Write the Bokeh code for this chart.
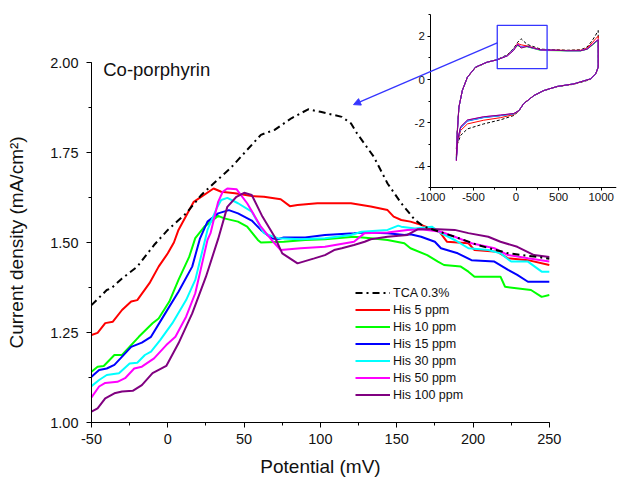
from bokeh.plotting import figure
from bokeh.models import (Range1d, LinearAxis, SingleIntervalTicker, PrintfTickFormatter,
                          Legend, LegendItem, Label, Arrow, NormalHead)
from bokeh.embed import file_html
from bokeh.resources import INLINE

# ---------------- main chart data (potential in mV, current density in mA/cm2) -------------
tca_mv = [-50, -40, -37, -30, -20, -9, 0, 12, 22, 30, 41, 50, 61, 70, 81, 92, 100, 114, 120, 124,
          135, 144, 153, 162, 168, 188, 203, 223, 242, 250]
tca_j = [1.326, 1.368, 1.373, 1.40, 1.433, 1.493, 1.535, 1.581, 1.632, 1.664, 1.706, 1.748, 1.799,
         1.813, 1.845, 1.87, 1.863, 1.849, 1.831, 1.803, 1.738, 1.664, 1.609, 1.5625, 1.544, 1.516,
         1.493, 1.47, 1.46, 1.455]

his5_mv = [-50, -46, -41, -36, -30, -24, -20, -12, -6, 0, 4, 7, 17, 30, 35, 44, 55, 63, 74, 80, 85,
           98, 120, 133, 144, 148, 153, 159, 166, 172, 178, 183, 197, 201, 216, 223, 236, 250]
his5_j = [1.243, 1.249, 1.276, 1.28, 1.3125, 1.336, 1.34, 1.387, 1.433, 1.47, 1.50, 1.535, 1.613,
          1.650, 1.641, 1.637, 1.629, 1.627, 1.620, 1.601, 1.604, 1.609, 1.609, 1.60, 1.59, 1.572,
          1.5625, 1.558, 1.549, 1.539, 1.53, 1.502, 1.498, 1.479, 1.474, 1.456, 1.451, 1.4375]

his10_mv = [-50, -46, -42, -35, -30, -19, -10, -6, 1, 7, 14, 18, 24, 33, 37, 46, 52, 59, 61, 76, 90,
            103, 122, 133, 144, 155, 159, 170, 177, 181, 192, 197, 201, 218, 221, 238, 245, 250]
his10_j = [1.141, 1.155, 1.157, 1.1875, 1.1875, 1.238, 1.2755, 1.289, 1.336, 1.396, 1.46, 1.512,
           1.544, 1.574, 1.567, 1.558, 1.544, 1.507, 1.50, 1.502, 1.507, 1.509, 1.516, 1.512, 1.507,
           1.498, 1.484, 1.465, 1.447, 1.4375, 1.433, 1.419, 1.405, 1.405, 1.377, 1.368, 1.349, 1.354]

his15_mv = [-50, -45, -40, -35, -31, -24, -17, -11, -1, 7, 16, 21, 26, 33, 40, 46, 55, 61, 68, 72,
            76, 90, 103, 122, 129, 144, 155, 159, 166, 175, 179, 190, 199, 214, 223, 229, 236, 250]
his15_j = [1.127, 1.146, 1.15, 1.16, 1.178, 1.21, 1.222, 1.238, 1.308, 1.363, 1.433, 1.51, 1.558,
           1.581, 1.590, 1.581, 1.561, 1.535, 1.512, 1.509, 1.514, 1.514, 1.521, 1.526, 1.528, 1.526,
           1.521, 1.523, 1.516, 1.502, 1.484, 1.47, 1.451, 1.447, 1.424, 1.41, 1.391, 1.391]

his30_mv = [-50, -45, -40, -32, -25, -20, -15, -11, -5, 3, 12, 18, 24, 26, 32, 35, 39, 46, 55, 63,
            72, 87, 103, 120, 127, 144, 151, 153, 162, 173, 179, 188, 197, 210, 218, 225, 236, 245, 250]
his30_j = [1.101, 1.118, 1.132, 1.137, 1.164, 1.166, 1.1875, 1.197, 1.229, 1.276, 1.34, 1.396, 1.50,
           1.535, 1.595, 1.618, 1.624, 1.609, 1.586, 1.526, 1.512, 1.509, 1.512, 1.521, 1.53, 1.535,
           1.547, 1.544, 1.539, 1.544, 1.526, 1.507, 1.484, 1.479, 1.47, 1.447, 1.447, 1.419, 1.419]

his50_mv = [-50, -45, -41, -33, -28, -22, -17, -9, -1, 5, 12, 18, 26, 28, 33, 36, 39, 45, 52, 61,
            68, 74, 87, 103, 122, 129, 144, 157, 166, 179, 188, 199, 214, 223, 236, 250]
his50_j = [1.07, 1.10, 1.11, 1.113, 1.123, 1.15, 1.155, 1.178, 1.215, 1.238, 1.294, 1.359, 1.507,
           1.526, 1.613, 1.641, 1.65, 1.648, 1.609, 1.544, 1.507, 1.479, 1.484, 1.488, 1.502, 1.526,
           1.528, 1.535, 1.537, 1.53, 1.516, 1.498, 1.484, 1.465, 1.456, 1.447]

his100_mv = [-50, -46, -41, -35, -30, -23, -17, -10, -1, 7, 16, 25, 33, 39, 45, 50, 55, 62, 70, 75,
             85, 96, 103, 109, 114, 122, 129, 133, 144, 157, 164, 177, 188, 197, 210, 218, 229, 240, 250]
his100_j = [1.03, 1.039, 1.067, 1.081, 1.086, 1.088, 1.104, 1.137, 1.157, 1.22, 1.303, 1.405, 1.51,
            1.599, 1.627, 1.638, 1.632, 1.572, 1.516, 1.47, 1.442, 1.456, 1.465, 1.479, 1.484, 1.493,
            1.502, 1.509, 1.516, 1.521, 1.537, 1.537, 1.535, 1.526, 1.516, 1.502, 1.488, 1.465, 1.46]

series_labels = ["TCA 0.3%", "His 5 ppm", "His 10 ppm", "His 15 ppm", "His 30 ppm", "His 50 ppm",
                 "His 100 ppm"]
series_colors = ["#000000", "#FF0000", "#00FF00", "#0000FF", "#00FFFF", "#FF00FF", "#800080"]

# ---------------- inset data: full cyclic voltammograms --------------------------------------
inset_mv = [-700, -690, -670, -630, -570, -475, -340, -220, -100, -25, 20, 60, 130, 290, 600, 760,
            835, 895, 935, 965,
            965, 935, 875, 680, 485, 325, 210, 90, 35, -25, -180, -380, -570, -650, -685, -700]
inset_tca = [-3.2, -2.4, -1.25, -0.5, 0.1, 0.55, 0.79, 0.92, 1.15, 1.45, 1.72, 1.88, 1.62, 1.40,
             1.35, 1.37, 1.50, 1.80, 2.05, 2.26,
             0.57, 0.24, 0.0, -0.22, -0.33, -0.52, -0.75, -1.10, -1.45, -1.66, -1.86, -2.05, -2.28,
             -2.58, -2.95, -3.2]
inset_his5 = [-3.5, -2.45, -1.27, -0.5, 0.1, 0.56, 0.80, 0.91, 1.12, 1.43, 1.66, 1.60, 1.55, 1.38,
              1.34, 1.35, 1.45, 1.70, 1.88, 2.0,
              0.57, 0.25, 0.02, -0.21, -0.32, -0.51, -0.74, -1.11, -1.44, -1.62, -1.76, -1.88, -2.05,
              -2.35, -2.9, -3.5]
inset_his10 = [-3.6, -2.5, -1.28, -0.51, 0.11, 0.57, 0.80, 0.91, 1.11, 1.42, 1.56, 1.50, 1.51, 1.34,
               1.32, 1.32, 1.40, 1.58, 1.72, 1.80,
               0.57, 0.26, 0.03, -0.20, -0.32, -0.51, -0.74, -1.12, -1.43, -1.58, -1.66, -1.74, -1.89,
               -2.2, -2.81, -3.6]
inset_his15 = [-3.65, -2.5, -1.28, -0.51, 0.11, 0.57, 0.80, 0.91, 1.11, 1.42, 1.58, 1.52, 1.52, 1.36,
               1.33, 1.33, 1.41, 1.60, 1.74, 1.82,
               0.57, 0.26, 0.03, -0.2, -0.32, -0.51, -0.74, -1.12, -1.43, -1.58, -1.67, -1.76, -1.92,
               -2.24, -2.85, -3.65]
inset_his30 = [-3.7, -2.51, -1.28, -0.51, 0.11, 0.57, 0.80, 0.91, 1.10, 1.40, 1.62, 1.51, 1.53, 1.36,
               1.33, 1.33, 1.41, 1.60, 1.75, 1.83,
               0.57, 0.26, 0.03, -0.2, -0.32, -0.51, -0.74, -1.12, -1.43, -1.58, -1.66, -1.75, -1.9,
               -2.22, -2.83, -3.7]
inset_his50 = [-3.74, -2.51, -1.28, -0.51, 0.11, 0.57, 0.80, 0.91, 1.10, 1.38, 1.64, 1.49, 1.53, 1.36,
               1.33, 1.33, 1.41, 1.62, 1.76, 1.84,
               0.57, 0.26, 0.03, -0.2, -0.32, -0.51, -0.74, -1.12, -1.43, -1.57, -1.64, -1.72, -1.87,
               -2.18, -2.8, -3.74]
inset_his100 = [-3.74, -2.51, -1.28, -0.51, 0.11, 0.57, 0.80, 0.91, 1.09, 1.35, 1.62, 1.45, 1.53,
                1.37, 1.33, 1.33, 1.40, 1.60, 1.75, 1.83,
                0.57, 0.26, 0.03, -0.2, -0.32, -0.51, -0.74, -1.12, -1.43, -1.57, -1.64, -1.72, -1.87,
                -2.18, -2.8, -3.74]

# zoom box drawn in the inset (inset coordinates) and arrow anchors
zoom_box_mv = [-220, 365]
zoom_box_j = [0.5, 2.5]
arrow_start_inset = (-220, 1.69)      # on the zoom box edge (inset coords)
arrow_end_main = (121.7, 1.883)        # tip in the main plot (main coords)

# ---------------- layout -------------------------------------------------------------------
FONT = "Liberation Sans"
W, H = 617, 477
L, R, T, B = 0, 616, 2, 477            # frame spans the canvas; every axis has a fixed location
AX_X = 91                               # canvas x of the main y axis (-50 mV)
AX_Y = 422                              # canvas y of the main x axis (1.00 mA/cm2)

MAIN_PX_PER_MV = 1.526
MAIN_PX_PER_J = 360.0
INS_PX_PER_MV = 0.0852
INS_PX_PER_J = 21.67
INS_XM1000 = 430.3                      # canvas x of -1000 mV in inset
INS_Y0 = 79.0                           # canvas y of 0 mA/cm2 in inset

mx0, mx1 = -50.0 - (AX_X - L) / MAIN_PX_PER_MV, -50.0 + (R - AX_X) / MAIN_PX_PER_MV
my0, my1 = 1.0 - (B - AX_Y) / MAIN_PX_PER_J, 1.0 + (AX_Y - T) / MAIN_PX_PER_J
ix0, ix1 = -1000 - (INS_XM1000 - L) / INS_PX_PER_MV, -1000 + (R - INS_XM1000) / INS_PX_PER_MV
iy0, iy1 = -(B - INS_Y0) / INS_PX_PER_J, (INS_Y0 - T) / INS_PX_PER_J

p = figure(width=W, height=H, x_range=Range1d(mx0, mx1), y_range=Range1d(my0, my1),
           output_backend="svg", toolbar_location=None,
           min_border_left=L, min_border_right=W - R, min_border_top=T, min_border_bottom=H - B)
p.extra_x_ranges = {"ix": Range1d(ix0, ix1)}
p.extra_y_ranges = {"iy": Range1d(iy0, iy1)}
p.outline_line_color = None
p.xgrid.visible = False
p.ygrid.visible = False
p.background_fill_color = "white"
p.border_fill_color = "white"


def style_axis(ax, label_size, tick_out, minor_out, standoff):
    ax.axis_line_color = "#000000"
    ax.axis_line_width = 1
    ax.major_tick_line_color = "#000000"
    ax.minor_tick_line_color = "#000000"
    ax.major_tick_in = 0
    ax.minor_tick_in = 0
    ax.major_tick_out = tick_out
    ax.minor_tick_out = minor_out
    ax.major_label_text_font = FONT
    ax.major_label_text_font_size = label_size
    ax.major_label_text_color = "#111111"
    ax.major_label_standoff = standoff
    ax.axis_label_text_font = FONT
    ax.axis_label_text_font_style = "normal"
    ax.axis_label_text_color = "#111111"


xa = p.xaxis[0]
ya = p.yaxis[0]
style_axis(xa, "14.5px", 5, 3, 6)
style_axis(ya, "14.5px", 5, 3, 8)
xa.fixed_location = 1.0
xa.bounds = (-50, 250)
xa.ticker = SingleIntervalTicker(interval=50, num_minor_ticks=2)
xa.formatter = PrintfTickFormatter(format="%d")
xa.axis_label = "Potential (mV)"
xa.axis_label_text_font_size = "19px"
xa.axis_label_standoff = 9
ya.fixed_location = -50
ya.bounds = (1.0, 2.0)
ya.ticker = SingleIntervalTicker(interval=0.25, num_minor_ticks=2)
ya.formatter = PrintfTickFormatter(format="%.2f")
ya.axis_label = "Current density (mA/cm²)"
ya.axis_label_text_font_size = "19px"
ya.axis_label_standoff = 20

# ---------------- inset --------------------------------------------------------------------
inset_series = [inset_tca, inset_his5, inset_his10, inset_his15, inset_his30, inset_his50,
                inset_his100]
for k, ys in enumerate(inset_series):
    p.line(inset_mv, ys, x_range_name="ix", y_range_name="iy", line_color=series_colors[k],
           line_width=1, line_dash=("3 2" if k == 0 else "solid"))

iax_y = LinearAxis(x_range_name="ix", y_range_name="iy", fixed_location=-1000, bounds=(-5, 3),
                   ticker=SingleIntervalTicker(interval=2, num_minor_ticks=2),
                   formatter=PrintfTickFormatter(format="%d"))
style_axis(iax_y, "11.5px", 3, 2, 3)
p.add_layout(iax_y, "left")
iax_x = LinearAxis(x_range_name="ix", y_range_name="iy", fixed_location=-5,
                   bounds=(-1000, ix1),
                   ticker=SingleIntervalTicker(interval=500, num_minor_ticks=2),
                   formatter=PrintfTickFormatter(format="%d"))
style_axis(iax_x, "11.5px", 3, 2, 2)
p.add_layout(iax_x, "below")

BOX_COLOR = "#3535FF"
p.quad(left=[zoom_box_mv[0]], right=[zoom_box_mv[1]], bottom=[zoom_box_j[0]], top=[zoom_box_j[1]],
       x_range_name="ix", y_range_name="iy", fill_color=None, line_color=BOX_COLOR, line_width=1.3)

sx = mx0 + (arrow_start_inset[0] - ix0) * (mx1 - mx0) / (ix1 - ix0)
sy = my0 + (arrow_start_inset[1] - iy0) * (my1 - my0) / (iy1 - iy0)
p.add_layout(Arrow(x_start=sx, y_start=sy, x_end=arrow_end_main[0], y_end=arrow_end_main[1],
                   line_color=BOX_COLOR, line_width=1.3,
                   end=NormalHead(size=7, fill_color=BOX_COLOR, line_color=BOX_COLOR)))

# ---------------- main curves --------------------------------------------------------------
main_series = [(tca_mv, tca_j), (his5_mv, his5_j), (his10_mv, his10_j), (his15_mv, his15_j),
               (his30_mv, his30_j), (his50_mv, his50_j), (his100_mv, his100_j)]
renderers = [None] * 7
for k in list(range(1, 7)) + [0]:
    xs, ys = main_series[k]
    renderers[k] = p.line(xs, ys, line_color=series_colors[k], line_width=2,
                          line_dash=("7 4 2 4" if k == 0 else "solid"))

legend = Legend(items=[LegendItem(label=series_labels[k], renderers=[renderers[k]]) for k in range(7)],
                location=(264 + (AX_X - L), 19 + (B - AX_Y)), padding=0, margin=0, spacing=0,
                glyph_width=35, glyph_height=17, label_height=17, label_standoff=3,
                label_text_font=FONT, label_text_font_size="12.5px", label_text_color="#111111",
                border_line_color=None, background_fill_alpha=0)
p.add_layout(legend)

p.add_layout(Label(x=-42.3, y=1.98, text="Co-porphyrin", text_font=FONT, text_font_size="18.5px",
                   text_color="#111111", text_baseline="alphabetic"))

open("out.html", "w").write(file_html(p, INLINE))
